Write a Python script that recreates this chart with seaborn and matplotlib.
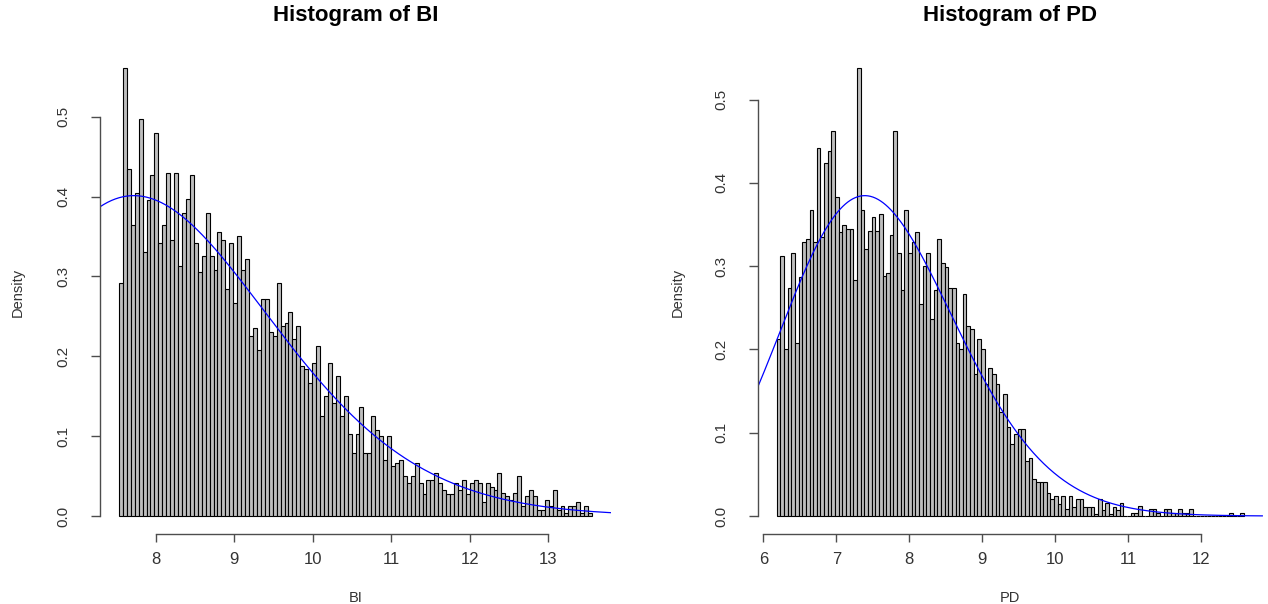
import math
import numpy as np
import pandas as pd
import matplotlib
matplotlib.use("Agg")
import matplotlib.pyplot as plt
import seaborn as sns

# Histogram densities (one value per bin) for each variable
bi_density = [
    0.292, 0.561, 0.435, 0.364, 0.405, 0.497, 0.330, 0.396, 0.427, 0.480,
    0.342, 0.364, 0.430, 0.346, 0.430, 0.313, 0.380, 0.397, 0.427, 0.342,
    0.305, 0.325, 0.380, 0.325, 0.308, 0.355, 0.346, 0.284, 0.342, 0.267,
    0.351, 0.308, 0.322, 0.225, 0.235, 0.208, 0.272, 0.272, 0.230, 0.225,
    0.292, 0.238, 0.242, 0.255, 0.222, 0.238, 0.188, 0.184, 0.167, 0.192,
    0.213, 0.125, 0.150, 0.192, 0.142, 0.175, 0.125, 0.150, 0.103, 0.079,
    0.103, 0.137, 0.079, 0.079, 0.125, 0.108, 0.100, 0.070, 0.100, 0.063,
    0.067, 0.070, 0.050, 0.041, 0.050, 0.067, 0.041, 0.028, 0.045, 0.045,
    0.054, 0.041, 0.033, 0.028, 0.028, 0.041, 0.033, 0.045, 0.028, 0.041,
    0.045, 0.041, 0.017, 0.041, 0.037, 0.033, 0.054, 0.029, 0.025, 0.020,
    0.029, 0.050, 0.013, 0.025, 0.033, 0.025, 0.008, 0.008, 0.020, 0.013,
    0.033, 0.008, 0.013, 0.004, 0.013, 0.013, 0.017, 0.004, 0.013, 0.004,
]
pd_density = [
    0.212, 0.312, 0.200, 0.274, 0.316, 0.208, 0.287, 0.329, 0.333, 0.367,
    0.329, 0.442, 0.335, 0.424, 0.438, 0.462, 0.383, 0.341, 0.350, 0.345,
    0.345, 0.283, 0.538, 0.367, 0.321, 0.342, 0.359, 0.342, 0.363, 0.288,
    0.292, 0.337, 0.462, 0.316, 0.271, 0.367, 0.316, 0.329, 0.341, 0.254,
    0.300, 0.316, 0.237, 0.271, 0.333, 0.304, 0.299, 0.274, 0.274, 0.208,
    0.200, 0.266, 0.228, 0.225, 0.170, 0.212, 0.200, 0.158, 0.178, 0.170,
    0.158, 0.125, 0.146, 0.107, 0.086, 0.099, 0.104, 0.104, 0.066, 0.070,
    0.045, 0.041, 0.041, 0.041, 0.028, 0.020, 0.024, 0.015, 0.024, 0.008,
    0.024, 0.011, 0.020, 0.020, 0.011, 0.011, 0.011, 0.003, 0.020, 0.007,
    0.016, 0.003, 0.011, 0.007, 0.016, 0.000, 0.000, 0.004, 0.004, 0.012,
    0.000, 0.000, 0.008, 0.008, 0.004, 0.000, 0.008, 0.008, 0.004, 0.004,
    0.008, 0.004, 0.004, 0.008, 0.000, 0.000, 0.000, 0.000, 0.000, 0.000,
    0.000, 0.000, 0.000, 0.000, 0.004, 0.000, 0.000, 0.004,
]

# Bin ranges (min, max of each variable)
bi_range = (7.53, 13.56)
pd_range = (6.183, 12.583)

# Fitted gamma curves, truncated at the sample minimum
bi_fit = {"shape": 23.0, "rate": 2.85}
pd_fit = {"shape": 41.0, "rate": 5.413}

bi_xticks = [8, 9, 10, 11, 12, 13]
pd_xticks = [6, 7, 8, 9, 10, 11, 12]
yticks = [0.0, 0.1, 0.2, 0.3, 0.4, 0.5]

sns.set_theme(style="white")
plt.rcParams["font.family"] = ["Liberation Sans", "DejaVu Sans"]

AXIS_GREY = "#4d4d4d"
TEXT_GREY = "#333333"


def gamma_pdf(x, shape, rate):
    x = np.asarray(x, dtype=float)
    logp = (shape - 1) * np.log(x) - rate * x + shape * math.log(rate) - math.lgamma(shape)
    return np.exp(logp)


def truncated_gamma(x, shape, rate, lower):
    grid = np.linspace(lower, lower + 80.0, 400001)
    mass = np.trapezoid(gamma_pdf(grid, shape, rate), grid)
    return gamma_pdf(x, shape, rate) / mass


def panel(ax, density, rng, fit, xticks, name):
    density = np.asarray(density, dtype=float)
    nbins = len(density)
    lo, hi = rng
    width = (hi - lo) / nbins
    centers = lo + width * (np.arange(nbins) + 0.5)
    bins_df = pd.DataFrame({"value": centers, "density": density})

    sns.histplot(data=bins_df, x="value", weights="density", bins=nbins,
                 binrange=(lo, hi), stat="count", color="#BEBEBE",
                 edgecolor="black", linewidth=0.8, alpha=1.0, ax=ax)

    pad = 0.04 * (hi - lo)
    xlim = (lo - pad, hi + pad)
    ymax = density.max()
    ylim = (-0.04 * ymax, 1.04 * ymax)

    xs = np.linspace(xlim[0], xlim[1], 400)
    curve_df = pd.DataFrame({"value": xs,
                             "fit": truncated_gamma(xs, fit["shape"], fit["rate"], lo)})
    sns.lineplot(data=curve_df, x="value", y="fit", color="blue",
                 linewidth=0.9, estimator=None, sort=False, ax=ax)

    ax.set_xlim(*xlim)
    ax.set_ylim(*ylim)

    for side in ("top", "right"):
        ax.spines[side].set_visible(False)
    for side in ("left", "bottom"):
        ax.spines[side].set_color(AXIS_GREY)
        ax.spines[side].set_linewidth(1.0)
    ax.spines["bottom"].set_bounds(xticks[0], xticks[-1])
    ax.spines["left"].set_bounds(yticks[0], yticks[-1])

    ax.set_xticks(xticks)
    ax.set_xticklabels([str(t) for t in xticks])
    ax.set_yticks(yticks)
    ax.set_yticklabels([f"{t:.1f}" for t in yticks])

    ax.tick_params(axis="both", which="major", direction="out", width=1.0,
                   color=AXIS_GREY, labelcolor=TEXT_GREY,
                   bottom=True, left=True)
    ax.tick_params(axis="x", length=5.8, pad=6.8, labelsize=12)
    ax.tick_params(axis="y", length=6.5, pad=15.0, labelsize=11,
                   labelrotation=90)
    for lab in ax.get_yticklabels():
        lab.set_verticalalignment("center")

    ax.set_xlabel(name, fontsize=10.5, color=TEXT_GREY)
    ax.set_ylabel("Density", fontsize=10.5, color=TEXT_GREY)
    ax.xaxis.set_label_coords(0.5, -0.132)
    ax.yaxis.set_label_coords(-0.160, 0.5)
    ax.xaxis.label.set_verticalalignment("center")
    ax.yaxis.label.set_verticalalignment("center")

    ax.set_title(f"Histogram of {name}", fontsize=16, fontweight="bold",
                 color="black", y=1.0715, pad=0, va="center")
    ax.grid(False)


W, H = 1268, 604
fig = plt.figure(figsize=(W / 100, H / 100), dpi=100)
fig.patch.set_facecolor("white")

ax_bi = fig.add_axes([100 / W, (H - 534) / H, 511 / W, 484 / H])
ax_pd = fig.add_axes([758 / W, (H - 534) / H, 504.6 / W, 484 / H])

panel(ax_bi, bi_density, bi_range, bi_fit, bi_xticks, "BI")
panel(ax_pd, pd_density, pd_range, pd_fit, pd_xticks, "PD")

fig.savefig("out.png", dpi=100, facecolor="white")
